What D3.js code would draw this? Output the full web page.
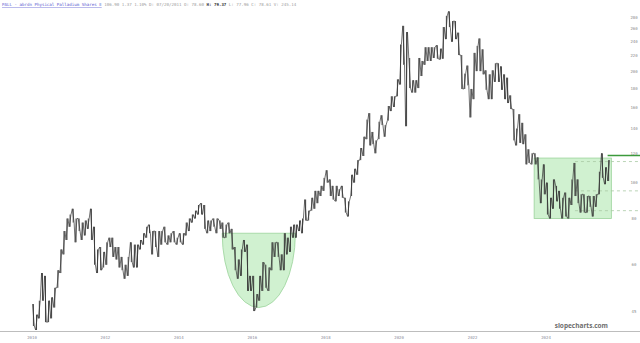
<!DOCTYPE html>
<html>
<head>
<meta charset="utf-8">
<script src="https://cdn.jsdelivr.net/npm/d3@7"></script>
<style>
  body { margin: 0; background: #fff; }
  svg { display: block; }
</style>
</head>
<body>
<div id="chart"></div>
<script>
// monthly ranges, PALL, starting Jan 2010
var firstMonth = "2010-01-01";
var lows = [
  41,40,43,48,42,42,43,46,52,57,64,70,
  76,78,69,74,70,72,75,70,60,57,58,59,
  60,67,63,62,59,58,55,56,61,59,59,66,
  68,71,73,64,67,63,68,69,68,69,69,68,
  69,68,72,74,78,80,82,82,75,73,74,76,
  73,75,71,71,73,66,58,55,56,65,51,51,
  45,46,48,51,52,51,58,63,63,58,58,64,
  65,71,71,74,73,79,79,84,85,88,92,95,
  100,92,90,89,92,91,83,81,92,100,105,115,
  118,131,126,127,120,131,143,133,147,156,160,171,
  184,208,142,180,175,175,180,194,208,213,213,217,
  216,215,216,244,263,240,244,221,179,179,183,150,
  168,200,200,196,178,168,168,187,187,178,168,164,
  158,130,126,128,127,112,113,112,112,102,88,93,
  82,80,85,89,85,80,81,80,87,92,88,83,
  83,83,86,81,86,93,103,99,101
];
var highs = [
  47,44,48,57,56,48,49,52,58,66,74,80,
  82,85,80,80,78,79,80,85,76,66,67,65,
  69,71,71,67,67,63,60,63,69,68,68,70,
  73,76,77,74,74,74,74,76,72,73,74,71,
  73,73,78,80,82,84,87,88,87,79,79,80,
  80,79,78,77,78,75,67,62,66,70,68,56,
  56,50,56,61,60,59,69,69,69,64,73,71,
  76,77,77,79,80,90,84,91,95,95,98,103,
  108,102,98,98,96,98,91,89,105,109,115,124,
  133,148,154,137,130,146,152,143,161,171,171,190,
  236,265,255,217,189,189,217,213,232,232,232,232,
  235,230,263,282,290,273,273,254,221,197,207,179,
  224,234,245,229,201,196,201,210,210,206,196,192,
  172,158,140,153,145,135,123,120,120,117,102,112,
  100,91,102,98,95,91,94,91,102,113,102,93,
  93,92,92,92,93,107,120,110,115
];

var priceTicks = [280,260,240,220,200,180,160,140,120,100,80,60,45];
var yearTicks = ["2010","2012","2014","2016","2018","2020","2022","2024"];

// drawn annotations
var cupDates = ["2015-03-08", "2017-03-05"];
var cupLevels = [73, 46];
var boxDates = ["2023-09-05", "2025-10-12"];
var boxLevels = [116.5, 80];
var rayStart = "2024-10-15";
var rayLevels = [114, 95, 84];
var breakStart = "2025-09-05";
var breakLevel = 118.4;

var W = 640, H = 343;
var parse = d3.timeParse("%Y-%m-%d");

var svg = d3.select("#chart").append("svg")
  .attr("width", W).attr("height", H);

var x = d3.scaleTime()
  .domain([new Date(2010, 0, 1), new Date(2024, 0, 1)])
  .range([32, 546]);
var y = d3.scaleLog()
  .domain([40, 280])
  .range([330, 17]);

var months = lows.map(function (d, i) {
  return d3.timeDay.offset(d3.timeMonth.offset(parse(firstMonth), i), 14);
});

// cup
var cx0 = x(parse(cupDates[0])), cx1 = x(parse(cupDates[1]));
var cyTop = y(cupLevels[0]), cyBot = y(cupLevels[1]);
svg.append("path")
  .attr("d", "M" + cx0 + "," + cyTop + " L" + cx1 + "," + cyTop +
    " A" + (cx1 - cx0) / 2 + "," + (cyBot - cyTop) + " 0 0 1 " + cx0 + "," + cyTop + " Z")
  .attr("fill", "rgba(150,225,150,0.45)")
  .attr("stroke", "#9bd39b")
  .attr("stroke-width", 0.8);

// box
var bx0 = x(parse(boxDates[0])), bx1 = x(parse(boxDates[1]));
svg.append("rect")
  .attr("x", bx0).attr("y", y(boxLevels[0]))
  .attr("width", bx1 - bx0).attr("height", y(boxLevels[1]) - y(boxLevels[0]))
  .attr("fill", "rgba(150,225,150,0.45)")
  .attr("stroke", "#9bd39b")
  .attr("stroke-width", 0.8);

// dashed rays
svg.selectAll(".ray").data(rayLevels).enter().append("line")
  .attr("class", "ray")
  .attr("x1", x(parse(rayStart))).attr("x2", W)
  .attr("y1", function (d) { return y(d); })
  .attr("y2", function (d) { return y(d); })
  .attr("stroke", "#a9c9a4")
  .attr("stroke-width", 0.8)
  .attr("stroke-dasharray", "3,3");

// price: thin range bars plus a zigzag through each month's low/high
svg.selectAll(".bar").data(months).enter().append("line")
  .attr("class", "bar")
  .attr("x1", function (d) { return x(d); })
  .attr("x2", function (d) { return x(d); })
  .attr("y1", function (d, i) { return y(lows[i]); })
  .attr("y2", function (d, i) { return y(highs[i]); })
  .attr("stroke", "#333")
  .attr("stroke-width", 0.9);

var pts = [];
months.forEach(function (d, i) {
  var mid = (lows[i] + highs[i]) / 2;
  var next = i < months.length - 1 ? (lows[i + 1] + highs[i + 1]) / 2 : mid;
  var a = next >= mid ? lows[i] : highs[i];
  var b = next >= mid ? highs[i] : lows[i];
  pts.push([x(d) - 0.9, y(a)]);
  pts.push([x(d) + 0.9, y(b)]);
});
svg.append("path")
  .attr("d", d3.line()(pts))
  .attr("fill", "none")
  .attr("stroke", "#333")
  .attr("stroke-width", 0.7);

// breakout line
svg.append("line")
  .attr("x1", x(parse(breakStart))).attr("x2", W)
  .attr("y1", y(breakLevel)).attr("y2", y(breakLevel))
  .attr("stroke", "#3c9a3c")
  .attr("stroke-width", 1.5);

// right price labels
svg.selectAll(".plab").data(priceTicks).enter().append("text")
  .attr("class", "plab")
  .attr("x", 634).attr("y", function (d) { return y(d) + 1.5; })
  .attr("text-anchor", "middle")
  .attr("font-family", "DejaVu Sans Mono, monospace")
  .attr("font-size", 4)
  .attr("fill", "#8a8a8a")
  .text(function (d) { return d; });

// bottom axis
svg.append("line")
  .attr("x1", 0).attr("x2", W).attr("y1", 331.5).attr("y2", 331.5)
  .attr("stroke", "#bdbdbd").attr("stroke-width", 1);
svg.selectAll(".ylab").data(yearTicks).enter().append("text")
  .attr("class", "ylab")
  .attr("x", function (d) { return x(new Date(+d, 0, 1)); })
  .attr("y", 339)
  .attr("text-anchor", "middle")
  .attr("font-family", "DejaVu Sans Mono, monospace")
  .attr("font-size", 4)
  .attr("fill", "#8a8a99")
  .text(function (d) { return d; });

// header
var head = svg.append("text")
  .attr("x", 2).attr("y", 6)
  .attr("font-family", "DejaVu Sans Mono, monospace")
  .attr("font-size", 4.15);
head.append("tspan").attr("fill", "#5a5ad0").attr("text-decoration", "underline")
  .text("PALL - abrdn Physical Palladium Shares E");
head.append("tspan").attr("fill", "#9a9a9a").text(" 106.90 1.37 1.10% D: 07/20/2011 O: 78.60 ");
head.append("tspan").attr("fill", "#333").attr("font-weight", "bold").text("H: 79.37");
head.append("tspan").attr("fill", "#9a9a9a").text(" L: 77.96 C: 78.61 V: 245.14");

// watermark
svg.append("text")
  .attr("x", 608).attr("y", 328)
  .attr("text-anchor", "end")
  .attr("font-family", "Open Sans, sans-serif")
  .attr("font-weight", "bold")
  .attr("font-size", 6.5)
  .attr("fill", "#6d6d6d")
  .text("slopecharts.com");
</script>
</body>
</html>
